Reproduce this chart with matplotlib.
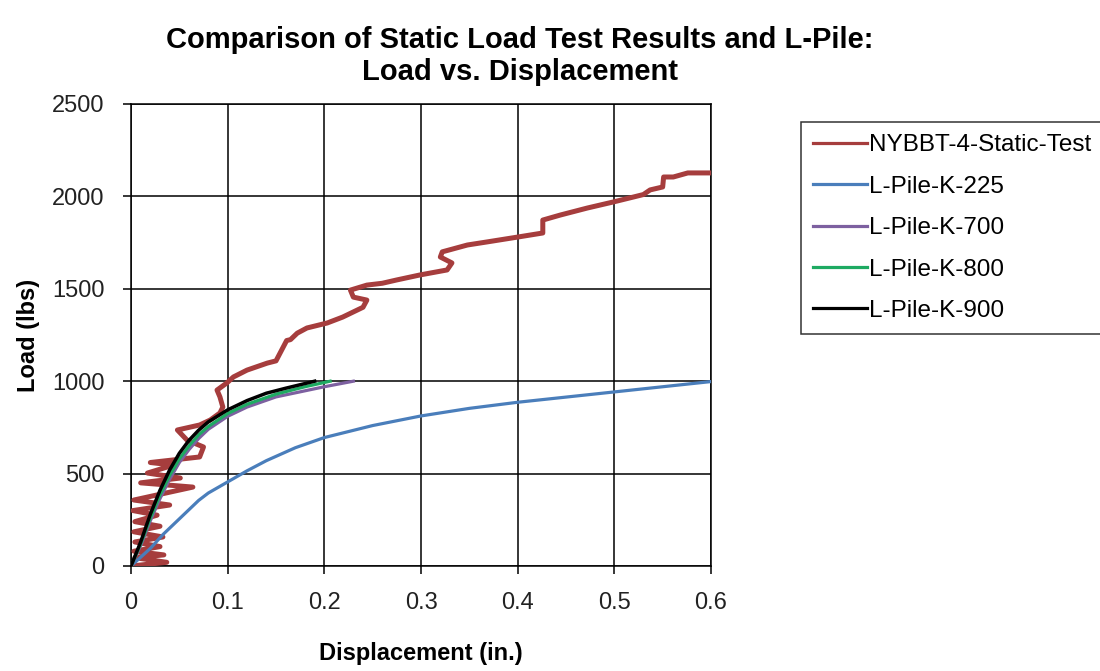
import matplotlib
matplotlib.use('Agg')
import matplotlib.pyplot as plt

plt.rcParams['font.family'] = ['Liberation Sans', 'DejaVu Sans']

# static load test (jagged measured curve)
test_disp = [0.0, 0.037, 0.004, 0.034, 0.003, 0.030, 0.004, 0.033, 0.003, 0.030, 0.004,
             0.027, 0.002, 0.040, 0.003, 0.064, 0.010, 0.051, 0.017, 0.044, 0.020,
             0.071, 0.075, 0.058, 0.048, 0.071, 0.082, 0.092, 0.095, 0.092, 0.089,
             0.099, 0.106, 0.120, 0.141, 0.150, 0.154, 0.161, 0.165, 0.172, 0.182,
             0.203, 0.219, 0.240, 0.244, 0.230, 0.227, 0.244, 0.260, 0.275, 0.299,
             0.327, 0.332, 0.320, 0.322, 0.348, 0.370, 0.400, 0.426, 0.426, 0.444,
             0.472, 0.499, 0.520, 0.530, 0.537, 0.550, 0.551, 0.561, 0.576, 0.600]
test_load = [0, 20, 45, 60, 80, 105, 130, 157, 185, 215, 240,
             275, 300, 330, 357, 427, 450, 476, 503, 546, 560,
             590, 644, 681, 736, 763, 790, 828, 860, 915, 952,
             990, 1023, 1060, 1098, 1110, 1150, 1220, 1225, 1260, 1288,
             1315, 1347, 1400, 1439, 1455, 1493, 1520, 1530, 1548, 1575,
             1602, 1640, 1672, 1700, 1737, 1755, 1780, 1802, 1872, 1899,
             1937, 1970, 1997, 2010, 2035, 2051, 2105, 2105, 2127, 2127]

# L-Pile predictions
k225_disp = [0, 0.02, 0.033, 0.05, 0.06, 0.07, 0.08, 0.1, 0.12, 0.14, 0.17, 0.2, 0.25, 0.3,
             0.35, 0.4, 0.45, 0.5, 0.55, 0.6]
k225_load = [0, 95, 170, 255, 305, 355, 395, 455, 515, 570, 640, 695, 760, 812,
             853, 886, 914, 942, 970, 998]

k700_disp = [0, 0.01, 0.02, 0.03, 0.04, 0.05, 0.06, 0.07, 0.08, 0.1, 0.12, 0.15, 0.2, 0.23]
k700_load = [0, 110, 245, 365, 470, 560, 630, 690, 740, 810, 860, 915, 970, 1000]

k800_disp = [0, 0.01, 0.02, 0.03, 0.04, 0.05, 0.06, 0.07, 0.08, 0.1, 0.12, 0.15, 0.18, 0.206]
k800_load = [0, 120, 260, 385, 490, 580, 650, 710, 755, 825, 875, 930, 970, 1000]

k900_disp = [0, 0.01, 0.02, 0.03, 0.04, 0.05, 0.06, 0.07, 0.08, 0.1, 0.12, 0.14, 0.16, 0.19]
k900_load = [0, 130, 280, 410, 520, 610, 680, 735, 780, 845, 895, 935, 962, 1000]

fig = plt.figure(figsize=(11, 6.71), dpi=100)
ax = fig.add_axes([131 / 1100, 1 - 566 / 671, 580 / 1100, 462 / 671])

ax.plot(test_disp, test_load, color='#A63D3D', lw=3.6, label='NYBBT-4-Static-Test', zorder=3)
ax.plot(k225_disp, k225_load, color='#4A7EBB', lw=2.3, label='L-Pile-K-225', zorder=4)
ax.plot(k700_disp, k700_load, color='#7D60A0', lw=2.3, label='L-Pile-K-700', zorder=5)
ax.plot(k800_disp, k800_load, color='#1EAA62', lw=2.3, label='L-Pile-K-800', zorder=6)
ax.plot(k900_disp, k900_load, color='black', lw=2.5, label='L-Pile-K-900', zorder=7)

ax.set_xlim(0, 0.6)
ax.set_ylim(0, 2500)
ax.set_xticks([0, 0.1, 0.2, 0.3, 0.4, 0.5, 0.6])
ax.set_xticklabels(['0', '0.1', '0.2', '0.3', '0.4', '0.5', '0.6'])
ax.set_yticks([0, 500, 1000, 1500, 2000, 2500])
ax.grid(True, color='black', lw=1.1)
ax.set_axisbelow(True)
for s in ax.spines.values():
    s.set_color('black')
    s.set_linewidth(1.1)
ax.tick_params(direction='out', length=6, width=1.1, labelsize=17, pad=13, colors='black',
               labelcolor='#222222')

ax.set_xlabel('Displacement (in.)', fontsize=17, fontweight='bold', labelpad=20)
ax.set_ylabel('Load (lbs)', fontsize=17, fontweight='bold', labelpad=9)

fig.text(520 / 1100, 1 - 56 / 671, 'Comparison of Static Load Test Results and L-Pile:\nLoad vs. Displacement',
         ha='center', va='center', fontsize=21, fontweight='bold', linespacing=1.2)

leg = ax.legend(loc='upper left', bbox_to_anchor=(801 / 1100, 1 - 122 / 671),
                bbox_transform=fig.transFigure, fontsize=17.5, frameon=True, fancybox=False,
                edgecolor='black', handlelength=2.2, handletextpad=0.1, labelspacing=0.8,
                borderpad=0.5, borderaxespad=0)
leg.get_frame().set_linewidth(1.1)
for h in leg.get_lines():
    h.set_linewidth(2.3)

fig.savefig('out.png', dpi=100)
